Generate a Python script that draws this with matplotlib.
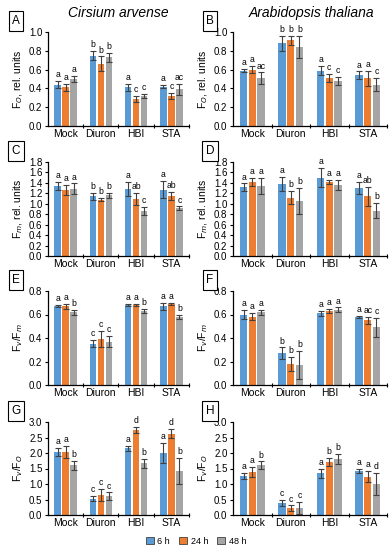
import matplotlib
matplotlib.use("Agg")
import matplotlib.pyplot as plt
import numpy as np

plt.rcParams['font.family'] = ['Liberation Sans', 'DejaVu Sans']

groups = ["Mock", "Diuron", "HBI", "STA"]
times = ["6 h", "24 h", "48 h"]
colors = ["#5b9bd5", "#ed7d31", "#a5a5a5"]

# values per panel: rows = time (6h, 24h, 48h), cols = groups
fo_cirs = [[0.44, 0.75, 0.41, 0.42], [0.41, 0.66, 0.29, 0.32], [0.50, 0.73, 0.32, 0.39]]
fo_cirs_err = [[0.04, 0.05, 0.04, 0.02], [0.04, 0.08, 0.03, 0.03], [0.03, 0.05, 0.02, 0.06]]
fo_cirs_let = [["a", "b", "a", "a"], ["a", "b", "c", "c"], ["a", "b", "c", "ac"]]

fo_arab = [[0.59, 0.88, 0.59, 0.54], [0.60, 0.91, 0.51, 0.51], [0.51, 0.84, 0.48, 0.44]]
fo_arab_err = [[0.02, 0.08, 0.05, 0.04], [0.04, 0.05, 0.04, 0.08], [0.06, 0.12, 0.04, 0.07]]
fo_arab_let = [["a", "b", "a", "a"], ["a", "b", "c", "a"], ["ac", "b", "c", "c"]]

fm_cirs = [[1.34, 1.14, 1.28, 1.27], [1.26, 1.08, 1.09, 1.15], [1.29, 1.16, 0.86, 0.92]]
fm_cirs_err = [[0.07, 0.06, 0.13, 0.16], [0.10, 0.03, 0.11, 0.08], [0.10, 0.05, 0.08, 0.03]]
fm_cirs_let = [["a", "b", "a", "a"], ["a", "b", "ab", "ab"], ["a", "b", "c", "c"]]

fm_arab = [[1.32, 1.38, 1.50, 1.30], [1.42, 1.12, 1.41, 1.14], [1.34, 1.05, 1.36, 0.87]]
fm_arab_err = [[0.07, 0.13, 0.18, 0.11], [0.08, 0.12, 0.04, 0.18], [0.16, 0.25, 0.10, 0.14]]
fm_arab_let = [["a", "a", "a", "a"], ["a", "b", "a", "ab"], ["a", "b", "a", "b"]]

fvfm_cirs = [[0.67, 0.35, 0.68, 0.67], [0.67, 0.39, 0.68, 0.69], [0.62, 0.37, 0.63, 0.58]]
fvfm_cirs_err = [[0.01, 0.03, 0.01, 0.03], [0.02, 0.07, 0.01, 0.01], [0.02, 0.05, 0.02, 0.02]]
fvfm_cirs_let = [["a", "c", "a", "a"], ["a", "c", "a", "a"], ["b", "c", "b", "b"]]

fvfm_arab = [[0.60, 0.27, 0.61, 0.58], [0.58, 0.18, 0.63, 0.55], [0.62, 0.17, 0.64, 0.49]]
fvfm_arab_err = [[0.04, 0.05, 0.02, 0.01], [0.03, 0.06, 0.02, 0.03], [0.02, 0.12, 0.02, 0.08]]
fvfm_arab_let = [["a", "b", "a", "a"], ["a", "b", "a", "ac"], ["a", "b", "a", "c"]]

fvfo_cirs = [[2.02, 0.53, 2.15, 2.00], [2.03, 0.65, 2.75, 2.62], [1.60, 0.60, 1.67, 1.42]]
fvfo_cirs_err = [[0.13, 0.08, 0.07, 0.32], [0.20, 0.20, 0.10, 0.15], [0.14, 0.13, 0.15, 0.42]]
fvfo_cirs_let = [["a", "c", "a", "a"], ["a", "c", "d", "d"], ["b", "c", "b", "b"]]

fvfo_arab = [[1.26, 0.39, 1.34, 1.42], [1.38, 0.22, 1.72, 1.24], [1.61, 0.23, 1.81, 1.00]]
fvfo_arab_err = [[0.10, 0.11, 0.15, 0.08], [0.16, 0.09, 0.13, 0.17], [0.12, 0.20, 0.17, 0.35]]
fvfo_arab_let = [["a", "c", "a", "a"], ["a", "c", "b", "a"], ["b", "c", "b", "d"]]

panels = [
    ("A", fo_cirs, fo_cirs_err, fo_cirs_let, "F$_O$, rel. units", 1.0, 0.2),
    ("B", fo_arab, fo_arab_err, fo_arab_let, "F$_O$, rel. units", 1.0, 0.2),
    ("C", fm_cirs, fm_cirs_err, fm_cirs_let, "F$_m$, rel. units", 1.8, 0.2),
    ("D", fm_arab, fm_arab_err, fm_arab_let, "F$_m$, rel. units", 1.8, 0.2),
    ("E", fvfm_cirs, fvfm_cirs_err, fvfm_cirs_let, "F$_v$/F$_m$", 0.8, 0.2),
    ("F", fvfm_arab, fvfm_arab_err, fvfm_arab_let, "F$_v$/F$_m$", 0.8, 0.2),
    ("G", fvfo_cirs, fvfo_cirs_err, fvfo_cirs_let, "F$_v$/F$_O$", 3.0, 0.5),
    ("H", fvfo_arab, fvfo_arab_err, fvfo_arab_let, "F$_v$/F$_O$", 3.0, 0.5),
]

W, H = 392, 550
fig = plt.figure(figsize=(W / 100, H / 100), dpi=100)

col_x = [(48, 189), (233, 387)]
box_x = [16, 210]
row_y = [(32, 126), (162, 256), (291, 385), (422, 515)]

x = np.arange(len(groups))
bw = 0.19
step = 0.227

for i, (lab, vals, errs, lets, ylab, ymax, ystep) in enumerate(panels):
    r, c = divmod(i, 2)
    x0, x1 = col_x[c]
    yt, yb = row_y[r]
    ax = fig.add_axes([x0 / W, 1 - yb / H, (x1 - x0) / W, (yb - yt) / H])
    for k in range(3):
        xs = x + (k - 1) * step
        ax.bar(xs, vals[k], bw, color=colors[k], label=times[k], zorder=2)
        ax.errorbar(xs, vals[k], yerr=errs[k], fmt="none", ecolor="#404040",
                    elinewidth=0.8, capsize=2, capthick=0.8, zorder=3)
        for xi, v, e, t in zip(xs, vals[k], errs[k], lets[k]):
            ax.text(xi, v + e + ymax * 0.02, t, ha="center", va="bottom",
                    fontsize=6.2)
    ax.set_xlim(-0.5, 3.5)
    ax.set_ylim(0, ymax)
    ticks = np.arange(0, ymax + ystep / 2, ystep)
    ax.set_yticks(ticks)
    ax.set_yticklabels([f"{v:.1f}" for v in ticks])
    ax.set_xticks(x)
    ax.set_xticklabels(groups)
    ax.set_xticks([0.5, 1.5, 2.5, 3.5], minor=True)
    ax.tick_params(axis="x", which="major", length=0, labelsize=7.5, pad=2)
    ax.tick_params(axis="x", which="minor", length=2.5, width=0.8, direction="inout")
    ax.tick_params(axis="y", length=2.5, width=0.8, labelsize=7, pad=1.5)
    for s in ["top", "right"]:
        ax.spines[s].set_visible(False)
    for s in ["left", "bottom"]:
        ax.spines[s].set_linewidth(0.9)
    ax.set_ylabel(ylab, fontsize=7.5, labelpad=3)
    fig.text(box_x[c] / W, 1 - (yt - 11) / H, lab, ha="center", va="center",
             fontsize=8.5,
             bbox=dict(boxstyle="square,pad=0.3", fc="white", ec="black", lw=0.8))

fig.text(118 / W, 1 - 13 / H, "Cirsium arvense", ha="center", va="center",
         fontsize=10, style="italic")
fig.text(312 / W, 1 - 13 / H, "Arabidopsis thaliana", ha="center", va="center",
         fontsize=10, style="italic")

handles = [plt.Rectangle((0, 0), 1, 1, fc=colors[k], ec="#404040", lw=0.6) for k in range(3)]
fig.legend(handles, times, loc="center", bbox_to_anchor=(196 / W, 1 - 541 / H),
           ncol=3, frameon=False, fontsize=6.5, handlelength=0.9, handleheight=0.9,
           handletextpad=0.4, columnspacing=1.0)

fig.savefig("out.png", dpi=100)
